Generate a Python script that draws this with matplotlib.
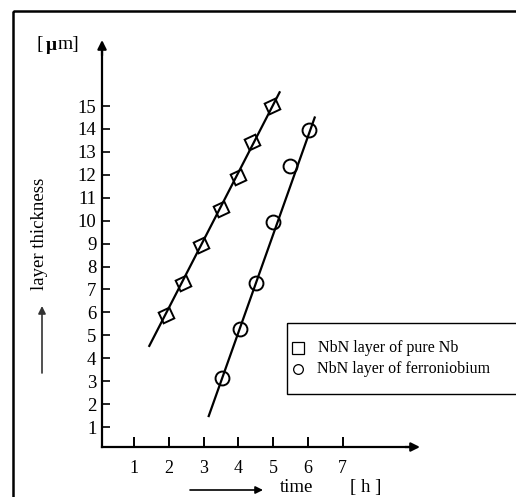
import matplotlib
matplotlib.use("Agg")
import matplotlib.pyplot as plt
from matplotlib.patches import Rectangle

# ---- data ----
pure_nb_t = [1.93, 2.42, 2.94, 3.50, 3.98, 4.41, 4.96]
pure_nb_d = [5.90, 7.30, 8.95, 10.50, 11.90, 13.45, 15.00]
ferro_t = [3.52, 4.06, 4.52, 4.99, 5.48, 6.05]
ferro_d = [3.14, 5.28, 7.30, 9.96, 12.40, 13.97]
pure_fit_t = [1.44, 5.19]
pure_fit_d = [4.54, 15.60]
ferro_fit_t = [3.15, 6.20]
ferro_fit_d = [1.48, 14.50]
x_ticks = [1, 2, 3, 4, 5, 6, 7]
y_ticks = list(range(1, 16))
legend_labels = ["NbN layer of pure Nb", "NbN layer of ferroniobium"]

W, H = 516, 497
plt.rcParams['font.family'] = ['Liberation Serif', 'DejaVu Serif']

fig = plt.figure(figsize=(W / 100, H / 100), dpi=100)
fig.patch.set_facecolor('white')

# main axes: data x=0 at px 99.25, 34.75 px/unit ; y=0 at px 450 (from top), 22.93 px/unit
x0px, xs = 99.25, 34.75
y0px, ys = 450.0, 22.93
xmax, ymax = 9.5, 18.0
ax = fig.add_axes([x0px / W, (H - y0px) / H, xmax * xs / W, ymax * ys / H])
ax.set_xlim(0, xmax)
ax.set_ylim(0, ymax)
ax.patch.set_alpha(0)

axis_x = 0.08
axis_y = 0.13
for s in ['top', 'right']:
    ax.spines[s].set_visible(False)
ax.spines['left'].set_position(('data', axis_x))
ax.spines['bottom'].set_position(('data', axis_y))
ax.spines['left'].set_bounds(axis_y, 17.5)
ax.spines['bottom'].set_bounds(axis_x, 9.0)
ax.spines['left'].set_linewidth(1.6)
ax.spines['bottom'].set_linewidth(1.6)
ax.annotate("", xy=(axis_x, 17.88), xytext=(axis_x, 17.2),
            arrowprops=dict(arrowstyle='-|>', color='black', lw=1.6, mutation_scale=13,
                            shrinkA=0, shrinkB=0), annotation_clip=False)
ax.annotate("", xy=(9.23, axis_y), xytext=(8.8, axis_y),
            arrowprops=dict(arrowstyle='-|>', color='black', lw=1.6, mutation_scale=13,
                            shrinkA=0, shrinkB=0), annotation_clip=False)

ax.set_xticks(x_ticks)
ax.set_xticklabels([str(v) for v in x_ticks])
ax.set_yticks(y_ticks)
ax.set_yticklabels([str(v) for v in y_ticks])
ax.tick_params(axis='y', direction='in', length=6, width=1.2, pad=4, labelsize=13.5)
ax.tick_params(axis='x', direction='in', length=7, width=1.4, pad=9, labelsize=13)

# fit lines
ax.plot(pure_fit_t, pure_fit_d, color='black', lw=1.6, zorder=2)
ax.plot(ferro_fit_t, ferro_fit_d, color='black', lw=1.6, zorder=2)
# data points
ax.plot(pure_nb_t, pure_nb_d, linestyle='none', marker=(4, 0, 70), ms=12,
        mfc='none', mec='black', mew=1.4, zorder=3)
ax.plot(ferro_t, ferro_d, linestyle='none', marker='o', ms=10,
        mfc='none', mec='black', mew=1.4, zorder=3)

# overlay in pixel coordinates for frame, legend box and annotations
ov = fig.add_axes([0, 0, 1, 1])
ov.set_xlim(0, W)
ov.set_ylim(H, 0)
ov.axis('off')
ov.patch.set_alpha(0)

# outer frame (cut by the image edges)
ov.add_patch(Rectangle((13, 11), 600, 600, fill=False, lw=1.8, edgecolor='black'))

# legend box
ov.add_patch(Rectangle((287, 323), 300, 71, fill=False, lw=1.0, edgecolor='black'))
ov.plot([298], [348], marker='s', ms=8, mfc='none', mec='black', mew=0.9, linestyle='none')
ov.plot([298], [369], marker='o', ms=7, mfc='none', mec='black', mew=0.9, linestyle='none')
ov.text(318, 348, legend_labels[0], fontsize=11.5, va='center', ha='left')
ov.text(317, 369, legend_labels[1], fontsize=11.5, va='center', ha='left')

# unit label [μm]
ov.text(37, 44, "[", fontsize=14, va='center', ha='left')
ov.text(46, 45, "\u03bc", fontsize=14, va='center', ha='left', fontweight='bold')
ov.text(58, 44, "m]", fontsize=14, va='center', ha='left')

# y label with arrow
ov.text(40, 234, "layer thickness", rotation=90, fontsize=13.5, va='center', ha='center')
ov.annotate("", xy=(42, 306), xytext=(42, 373),
            arrowprops=dict(arrowstyle='-|>', color='#333333', lw=1.2, mutation_scale=11,
                            shrinkA=0, shrinkB=0))

# x label with arrow
ov.annotate("", xy=(263, 490), xytext=(190, 490),
            arrowprops=dict(arrowstyle='-|>', color='black', lw=1.2, mutation_scale=11,
                            shrinkA=0, shrinkB=0))
ov.text(297, 496, "time", fontsize=13.5, va='bottom', ha='center')
ov.text(366, 496, "[ h ]", fontsize=13.5, va='bottom', ha='center')

fig.savefig("out.png", dpi=100)
